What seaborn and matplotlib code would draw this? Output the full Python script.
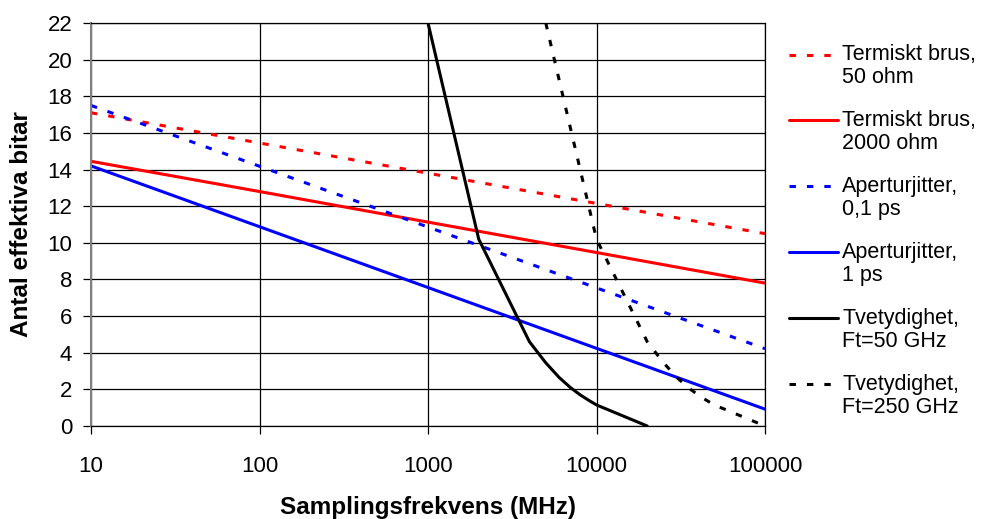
import matplotlib
matplotlib.use("Agg")
import matplotlib.pyplot as plt
import seaborn as sns
import pandas as pd
from matplotlib.ticker import FixedLocator, FixedFormatter
from matplotlib.legend_handler import HandlerLine2D

# ---- data ----
freq_lin = [10, 100, 1000, 10000, 100000]
termisk_50 = [17.1, 15.45, 13.8, 12.15, 10.5]
termisk_2000 = [14.45, 12.8, 11.13, 9.47, 7.8]
jitter_01 = [17.5, 14.18, 10.86, 7.54, 4.22]
jitter_1 = [14.2, 10.88, 7.56, 4.24, 0.92]

freq_ft50 = [1000, 2000, 4000, 5000, 6000, 7000, 8000, 9000, 10000, 20000]
freq_ft250 = [5000, 10000, 20000, 25000, 30000, 35000, 40000, 45000, 50000, 100000]
tvety = [22, 10.2, 4.6, 3.45, 2.65, 2.1, 1.7, 1.4, 1.15, 0]

x_ticks = [10, 100, 1000, 10000, 100000]
x_ticklabels = ["10", "100", "1000", "10000", "100000"]
y_ticks = list(range(0, 23, 2))

labels = ["Termiskt brus,\n50 ohm", "Termiskt brus,\n2000 ohm",
          "Aperturjitter,\n0,1 ps", "Aperturjitter,\n1 ps",
          "Tvetydighet,\nFt=50 GHz", "Tvetydighet,\nFt=250 GHz"]

sns.set_style("white")
plt.rcParams["font.family"] = ["Liberation Sans", "DejaVu Sans"]
for k in ["text.color", "axes.labelcolor", "xtick.color", "ytick.color"]:
    plt.rcParams[k] = "black"


class FirstLineHandler(HandlerLine2D):
    """Place the legend line level with the first text line."""
    def __init__(self, shift, **kw):
        super().__init__(**kw)
        self.shift = shift

    def create_artists(self, legend, orig_handle, xdescent, ydescent, width,
                       height, fontsize, trans):
        return super().create_artists(legend, orig_handle, xdescent,
                                      ydescent - self.shift, width, height,
                                      fontsize, trans)


fig = plt.figure(figsize=(9.84, 5.19), dpi=100)
ax = fig.add_axes([91/984, 1-426/519, (765-91)/984, (426-23)/519])

dot = (0, (2.1, 3.6))
series = [
    (freq_lin, termisk_50, "#FF0000", dot),
    (freq_lin, termisk_2000, "#FF0000", "-"),
    (freq_lin, jitter_01, "#0000FF", dot),
    (freq_lin, jitter_1, "#0000FF", "-"),
    (freq_ft50, tvety, "#000000", "-"),
    (freq_ft250, tvety, "#000000", dot),
]
handles = []
for (xs, ys, c, ls), lab in zip(series, labels):
    df = pd.DataFrame({"x": xs, "y": ys})
    sns.lineplot(data=df, x="x", y="y", ax=ax, color=c, linestyle=ls,
                 linewidth=2.2, estimator=None, legend=False)
    handles.append(ax.lines[-1])

ax.set_xscale("log")
ax.set_xlim(10, 100000)
ax.set_ylim(0, 22)
ax.xaxis.set_major_locator(FixedLocator(x_ticks))
ax.xaxis.set_major_formatter(FixedFormatter(x_ticklabels))
ax.xaxis.set_minor_locator(FixedLocator([]))
ax.set_yticks(y_ticks)
ax.grid(True, which="major", color="black", linewidth=0.9)
ax.set_axisbelow(True)
for s in ax.spines.values():
    s.set_color("black")
    s.set_linewidth(0.9)
ax.spines["left"].set_color("#808080")
ax.spines["left"].set_linewidth(1.5)

ax.tick_params(axis="both", which="major", direction="out", length=5.5,
               width=0.9, color="black", labelsize=16, left=True, bottom=True)
ax.tick_params(axis="x", pad=16)
ax.tick_params(axis="y", pad=8)

ax.set_xlabel("Samplingsfrekvens (MHz)", fontsize=17.5, fontweight="bold", labelpad=14)
ax.set_ylabel("Antal effektiva bitar", fontsize=17.5, fontweight="bold", labelpad=10)

hmap = {h: FirstLineHandler(shift=17.5) for h in handles}
leg = fig.legend(handles, labels, loc="upper left", bbox_to_anchor=(789/984, 1-44/519),
                 frameon=False, fontsize=15.5, handlelength=2.28, handletextpad=0.19,
                 labelspacing=1.0, borderaxespad=0, borderpad=0, handler_map=hmap)
for t in leg.get_texts():
    t.set_linespacing(1.15)

fig.savefig("out.png", dpi=100)
